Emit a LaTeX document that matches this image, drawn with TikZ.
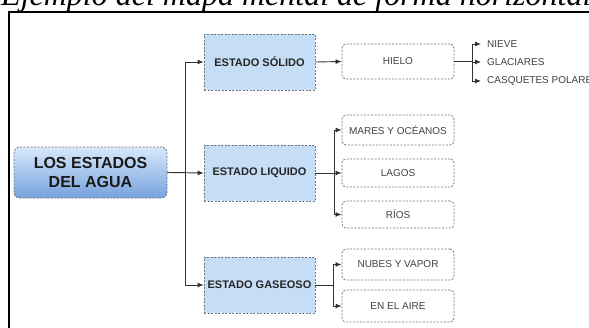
\documentclass[tikz,border=0pt]{standalone}
\usepackage{fontspec}
\setmainfont{Liberation Sans}
\newfontfamily\titlefont{Liberation Serif}
\usepackage{tikz}
\usetikzlibrary{arrows.meta}
\definecolor{estadoblue}{HTML}{C6DDF6}
\definecolor{topblue}{HTML}{D8E8FB}
\definecolor{botblue}{HTML}{76A2DC}

\begin{document}
\begin{tikzpicture}[x=1pt,y=-1pt]
            \tikzstyle{every node}+=[inner sep=0pt]
            \tikzstyle{borde}=[draw=black!55,dash pattern=on 2pt off 1.5pt,line width=0.8pt]
            \tikzstyle{raiz}=[borde,rounded corners=5pt,top color=topblue,bottom color=botblue,minimum width=153pt,minimum height=51pt,align=center,font=\bfseries\fontsize{16}{19}\selectfont,text=black!90]
            \tikzstyle{estado}=[borde,fill=estadoblue,minimum width=111pt,minimum height=56pt,font=\bfseries\fontsize{11}{13}\selectfont,text=black!85]
            \tikzstyle{hoja}=[borde,rounded corners=4pt,minimum width=112pt,minimum height=30pt,font=\fontsize{10}{12}\selectfont,text=black!75]
            \tikzstyle{texto}=[anchor=west,inner xsep=6pt,font=\fontsize{10}{12}\selectfont,text=black!75]
            \tikzstyle{conn}=[draw=black!80,line width=0.9pt,-{Latex[length=6pt,width=5pt]}]
            \useasboundingbox (0,0) rectangle (589,327);
            \clip (0,0) rectangle (589,327);
            \node [anchor=base west,font=\titlefont\itshape\fontsize{32}{32}\selectfont] (titulo) at (1,5.5) {Ejemplo del mapa mental de forma horizontal};
            \draw [black,line width=2pt] (9,12) rectangle (640,360);
            \node [raiz] (agua) at (90.5,172.5) {LOS ESTADOS\\DEL AGUA};
            \node [estado] (solido) at (259.5,62) {ESTADO SÓLIDO};
            \node [estado] (liquido) at (259.5,173) {ESTADO LIQUIDO};
            \node [estado] (gaseoso) at (259.5,285) {ESTADO GASEOSO};
            \node [hoja,minimum height=35pt] (hielo) at (398,61.5) {HIELO};
            \node [hoja] (mares) at (398,130) {MARES Y OCÉANOS};
            \node [hoja,minimum height=28pt] (lagos) at (398,173) {LAGOS};
            \node [hoja,minimum height=27pt] (rios) at (398,214.5) {RÍOS};
            \node [hoja,minimum height=31pt] (nubes) at (398,264.5) {NUBES Y VAPOR};
            \node [hoja,minimum height=32pt] (aire) at (398,306) {EN EL AIRE};
            \node [texto] (nieve) at (481,44) {NIEVE};
            \node [texto] (glaciares) at (481,62) {GLACIARES};
            \node [texto] (casquetes) at (481,81) {CASQUETES POLARES};
            \draw [conn] (agua.east) -- (liquido.west);
            \draw [conn] (agua.east) -- ++(18,0) |- (solido.west);
            \draw [conn] (agua.east) -- ++(18,0) |- (gaseoso.west);
            \draw [conn] (solido.east) -- (hielo.west);
            \draw [conn] (hielo.east) -- ++(18,0) |- (nieve.west);
            \draw [conn] (hielo.east) -- ++(18,0) |- (glaciares.west);
            \draw [conn] (hielo.east) -- ++(18,0) |- (casquetes.west);
            \draw [conn] (liquido.east) -- ++(19,0) |- (mares.west);
            \draw [conn] (liquido.east) -- (lagos.west);
            \draw [conn] (liquido.east) -- ++(19,0) |- (rios.west);
            \draw [conn] (gaseoso.east) -- ++(18,0) |- (nubes.west);
            \draw [conn] (gaseoso.east) -- ++(18,0) |- (aire.west);
        \end{tikzpicture}
\end{document}
